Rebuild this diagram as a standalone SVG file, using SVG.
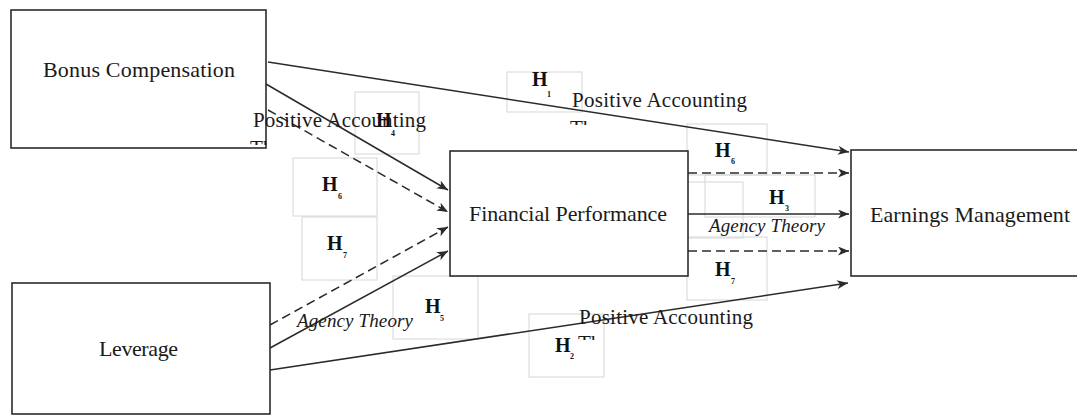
<svg xmlns="http://www.w3.org/2000/svg" width="1077" height="416" viewBox="0 0 1077 416">
<style>
.node{fill:#fff;stroke:#2b2b2b;stroke-width:1.6}
.lbl{font-family:"Liberation Serif","Times New Roman",serif;font-size:22px;fill:#1a1a1a}
.th{font-family:"Liberation Serif","Times New Roman",serif;font-size:21px;fill:#1a1a1a}
.it{font-family:"Liberation Serif","Times New Roman",serif;font-size:19px;font-style:italic;fill:#1a1a1a}
.h{font-family:"Liberation Serif","Times New Roman",serif;font-size:20px;font-weight:bold;fill:#111}
.sub{font-family:"Liberation Serif","Times New Roman",serif;font-size:8px;font-weight:bold;fill:#111}
.tb{fill:none;stroke:#d6d6d6;stroke-width:1}
.c{fill:none;stroke:#2b2b2b;stroke-width:1.5;marker-end:url(#ah)}
.d{stroke-dasharray:9 5}
</style>
<defs>
<marker id="ah" markerUnits="userSpaceOnUse" markerWidth="12" markerHeight="9" refX="11" refY="4.5" orient="auto">
<path d="M0,0 L11,4.5 L0,9 L3,4.5 z" fill="#2b2b2b"/>
</marker>
<clipPath id="clipA"><rect x="240" y="130" width="60" height="15"/></clipPath>
<clipPath id="clipB"><rect x="560" y="110" width="60" height="15"/></clipPath>
<clipPath id="clipC"><rect x="565" y="325" width="60" height="15"/></clipPath>
</defs>

<g id="textboxes">
<rect class="tb" x="507" y="72" width="75" height="40"/>
<rect class="tb" x="355" y="92" width="64" height="62"/>
<rect class="tb" x="293" y="158" width="84" height="58"/>
<rect class="tb" x="302" y="217" width="75" height="63"/>
<rect class="tb" x="393" y="276" width="85" height="63"/>
<rect class="tb" x="529" y="314" width="75" height="63"/>
<rect class="tb" x="687" y="124" width="80" height="51"/>
<rect class="tb" x="705" y="175" width="110" height="42"/>
<rect class="tb" x="687" y="182" width="56" height="56"/>
<rect class="tb" x="687" y="237" width="80" height="63"/>
</g>

<g id="connectors">
<path class="c" d="M268,62 L849,152"/>
<path class="c" d="M266,84 L448,190"/>
<path class="c d" d="M268,110 L448,212"/>
<path class="c d" d="M270,325 L448,227"/>
<path class="c" d="M270,348 L448,251"/>
<path class="c" d="M270,370 L848,283"/>
<path class="c d" d="M688,173 L849,173"/>
<path class="c" d="M688,214 L849,214"/>
<path class="c d" d="M688,251 L849,251"/>
</g>

<g id="bonus">
<rect class="node" x="11" y="10" width="255" height="138"/>
<text class="lbl" x="43" y="77" textLength="192" lengthAdjust="spacing">Bonus Compensation</text>
</g>
<g id="leverage">
<rect class="node" x="12" y="283" width="258" height="131"/>
<text class="lbl" x="99" y="356" textLength="79" lengthAdjust="spacing">Leverage</text>
</g>
<g id="financial">
<rect class="node" x="450" y="151" width="238" height="125"/>
<text class="lbl" x="469" y="221" textLength="198" lengthAdjust="spacing">Financial Performance</text>
</g>
<g id="earnings">
<rect class="node" x="851" y="150" width="240" height="126"/>
<text class="lbl" x="870" y="222" textLength="200" lengthAdjust="spacing">Earnings Management</text>
</g>

<g id="labels">
<text class="th" x="253" y="127" textLength="173" lengthAdjust="spacing">Positive Accounting</text>
<text class="th" x="250" y="155" clip-path="url(#clipA)">Theory</text>
<text class="th" x="572" y="107" textLength="175" lengthAdjust="spacing">Positive Accounting</text>
<text class="th" x="570" y="135" clip-path="url(#clipB)">Theory</text>
<text class="th" x="579" y="324" textLength="174" lengthAdjust="spacing">Positive Accounting</text>
<text class="th" x="578" y="350" clip-path="url(#clipC)">Theory</text>
<text class="it" x="297" y="327" textLength="116" lengthAdjust="spacing">Agency Theory</text>
<text class="it" x="709" y="232" textLength="116" lengthAdjust="spacing">Agency Theory</text>

<text class="h" x="532" y="86">H</text><text class="sub" x="547" y="97">1</text>
<text class="h" x="376" y="127">H</text><text class="sub" x="391" y="136">4</text>
<text class="h" x="322" y="191">H</text><text class="sub" x="338" y="199">6</text>
<text class="h" x="327" y="250">H</text><text class="sub" x="343" y="258">7</text>
<text class="h" x="425" y="313">H</text><text class="sub" x="440" y="321">5</text>
<text class="h" x="555" y="352">H</text><text class="sub" x="570" y="359">2</text>
<text class="h" x="715" y="157">H</text><text class="sub" x="731" y="164">6</text>
<text class="h" x="769" y="204">H</text><text class="sub" x="785" y="211">3</text>
<text class="h" x="715" y="276">H</text><text class="sub" x="731" y="284">7</text>
</g>
</svg>
